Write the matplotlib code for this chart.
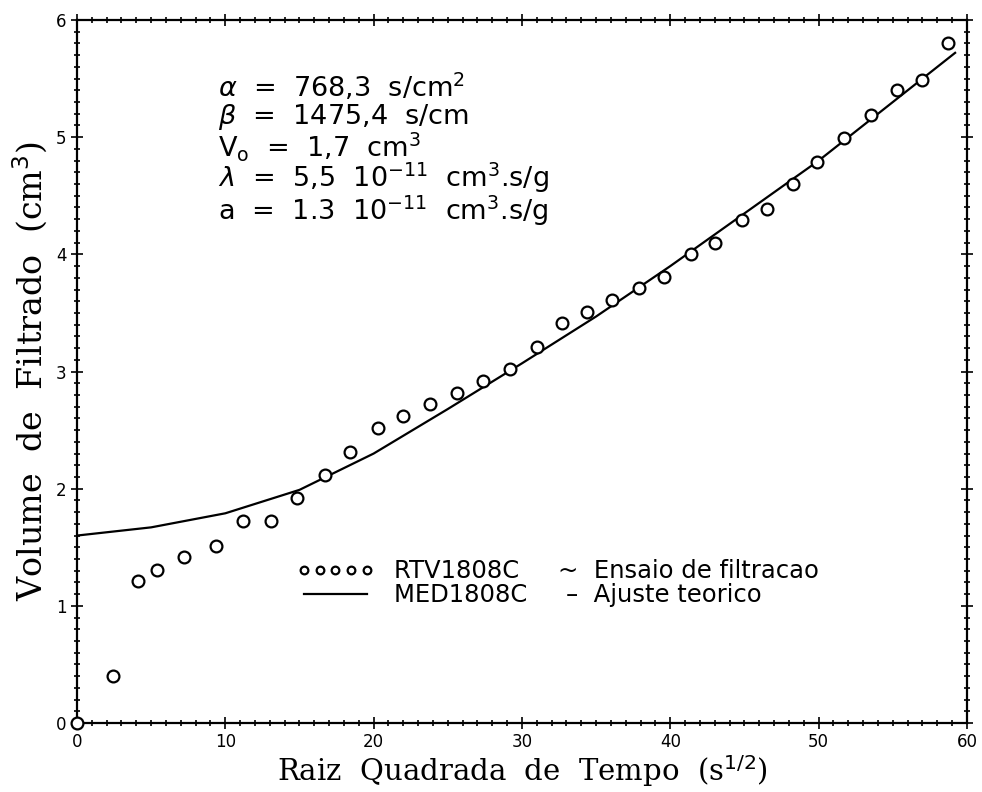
"""Volume de filtrado vs raiz quadrada do tempo: ensaio e ajuste teorico."""

import matplotlib

matplotlib.use("Agg")
import matplotlib.pyplot as plt
from matplotlib.ticker import MultipleLocator

# ensaio de filtracao (RTV1808C)
sqrt_t_ensaio = [0, 2.4, 4.1, 5.4, 7.2, 9.4, 11.2, 13.1, 14.8, 16.7, 18.4, 20.3, 22.0, 23.8,
                 25.6, 27.4, 29.2, 31.0, 32.7, 34.4, 36.1, 37.9, 39.6, 41.4, 43.0, 44.8,
                 46.5, 48.3, 49.9, 51.7, 53.5, 55.3, 57.0, 58.7]
vol_ensaio = [0.0, 0.40, 1.21, 1.31, 1.42, 1.51, 1.72, 1.72, 1.92, 2.12, 2.31, 2.52, 2.62, 2.72,
              2.82, 2.92, 3.02, 3.21, 3.41, 3.51, 3.61, 3.71, 3.81, 4.00, 4.10, 4.29,
              4.39, 4.60, 4.79, 4.99, 5.19, 5.40, 5.49, 5.80]

# ajuste teorico (MED1808C)
sqrt_t_ajuste = [0, 5, 10, 15, 20, 25, 30, 35, 40, 45, 50, 55, 59.2]
vol_ajuste = [1.60, 1.67, 1.79, 1.99, 2.30, 2.68, 3.07, 3.47, 3.90, 4.35, 4.80, 5.30, 5.72]

parametros = [
    r"$\alpha$  =  768,3  s/cm$^2$",
    r"$\beta$  =  1475,4  s/cm",
    r"V$_\mathrm{o}$  =  1,7  cm$^3$",
    r"$\lambda$  =  5,5  10$^{-11}$  cm$^3$.s/g",
    r"a  =  1.3  10$^{-11}$  cm$^3$.s/g",
]

fig = plt.figure(figsize=(9.82, 7.92), dpi=100)
ax = fig.add_axes([0.0784, 0.0871, 0.9063, 0.8876])

ax.plot(sqrt_t_ensaio, vol_ensaio, linestyle="none", marker="o", markersize=8.5,
        markerfacecolor="white", markeredgecolor="black", markeredgewidth=1.6,
        clip_on=False, zorder=3, label="RTV1808C     ~  Ensaio de filtracao")
ax.plot(sqrt_t_ajuste, vol_ajuste, color="black", linewidth=1.6,
        label="MED1808C     \u2013  Ajuste teorico")

ax.set_xlim(0, 60)
ax.set_ylim(0, 6)
ax.xaxis.set_major_locator(MultipleLocator(10))
ax.xaxis.set_minor_locator(MultipleLocator(1))
ax.yaxis.set_major_locator(MultipleLocator(1))
ax.yaxis.set_minor_locator(MultipleLocator(0.1))
ax.tick_params(which="both", direction="inout", top=True, right=True, labelsize=12, width=1.2)
ax.tick_params(which="major", length=8)
ax.tick_params(which="minor", length=4)
for spine in ax.spines.values():
    spine.set_linewidth(1.6)

serif = ["DejaVu Serif"]
ax.set_xlabel(r"Raiz  Quadrada  de  Tempo  (s$^{1/2}$)", fontsize=21, family=serif, labelpad=1)
ax.set_ylabel(r"Volume  de  Filtrado  (cm$^3$)", fontsize=24, family=serif, labelpad=4)

ax.text(9.5, 5.56, "\n".join(parametros), fontsize=19.5, va="top", ha="left",
        linespacing=0.93, family="DejaVu Sans")

ax.legend(loc="center", bbox_to_anchor=(0.54, 0.199), numpoints=5, handlelength=3.2,
          markerscale=0.65, frameon=False, handletextpad=0.8, labelspacing=0.0,
          prop={"family": "DejaVu Sans", "size": 17.5})

plt.savefig("out.png", dpi=100)
plt.close(fig)
